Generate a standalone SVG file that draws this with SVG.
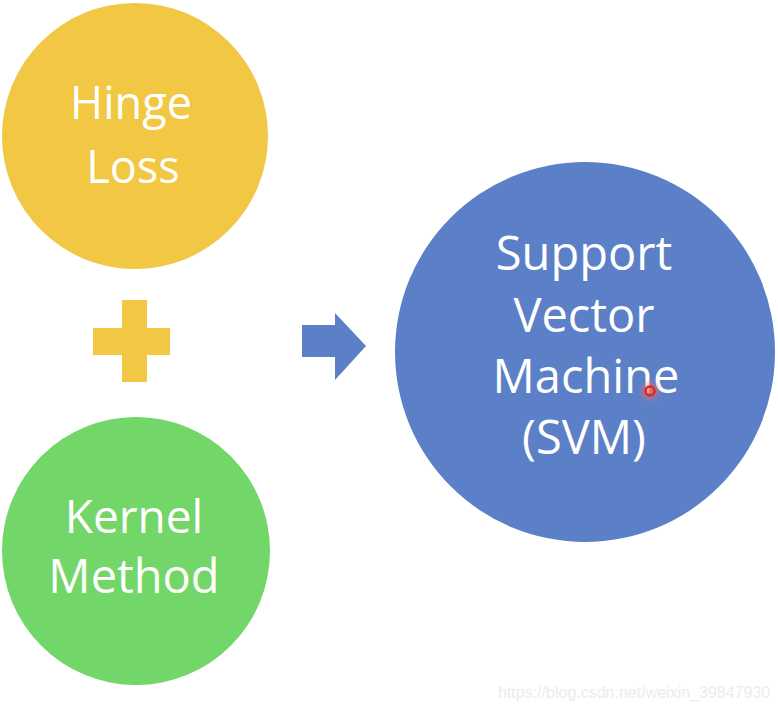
<svg xmlns="http://www.w3.org/2000/svg" width="778" height="712" viewBox="0 0 778 712">
  <defs>
    <style>
      .lbl { font-family: "Open Sans", "Noto Sans", "Liberation Sans", sans-serif; fill: #ffffff; text-anchor: middle; }
      .wm { font-family: "Liberation Sans", Arial, sans-serif; font-size: 16px; fill: #ececec; }
    </style>
    <radialGradient id="glow">
      <stop offset="0" stop-color="#ff6a5a" stop-opacity="0.8"/>
      <stop offset="1" stop-color="#ff6a5a" stop-opacity="0"/>
    </radialGradient>
  </defs>
  <rect width="778" height="712" fill="#ffffff"/>

  <g id="hinge-loss">
    <circle cx="135" cy="136" r="133" fill="#F2C744"/>
    <text class="lbl" font-size="45" x="131" y="119">Hinge</text>
    <text class="lbl" font-size="45" x="133" y="183">Loss</text>
  </g>

  <g id="plus">
    <rect x="122" y="300" width="25" height="82" fill="#F2C744"/>
    <rect x="93" y="328" width="77" height="27" fill="#F2C744"/>
  </g>

  <g id="kernel-method">
    <circle cx="136" cy="551" r="134" fill="#72D668"/>
    <text class="lbl" font-size="46" x="134" y="533">Kernel</text>
    <text class="lbl" font-size="47" x="134" y="593">Method</text>
  </g>

  <g id="connectors">
    <polygon points="302,325 335,325 335,313 366,346 335,380 335,357 302,357" fill="#5B80C8"/>
  </g>

  <g id="svm">
    <circle cx="585" cy="352" r="190" fill="#5B80C8"/>
    <text class="lbl" font-size="47" x="584" y="270">Support</text>
    <text class="lbl" font-size="47" x="584" y="332">Vector</text>
    <text class="lbl" font-size="47" x="586" y="393">Machine</text>
    <text class="lbl" font-size="47" x="584" y="454">(SVM)</text>
  </g>

  <g id="pointer">
    <circle cx="650" cy="391" r="12" fill="url(#glow)"/>
    <circle cx="650" cy="391" r="4.5" fill="none" stroke="#e02818" stroke-width="2.5"/>
  </g>

  <text class="wm" x="498" y="698">https://blog.csdn.net/weixin_39847930</text>
</svg>
